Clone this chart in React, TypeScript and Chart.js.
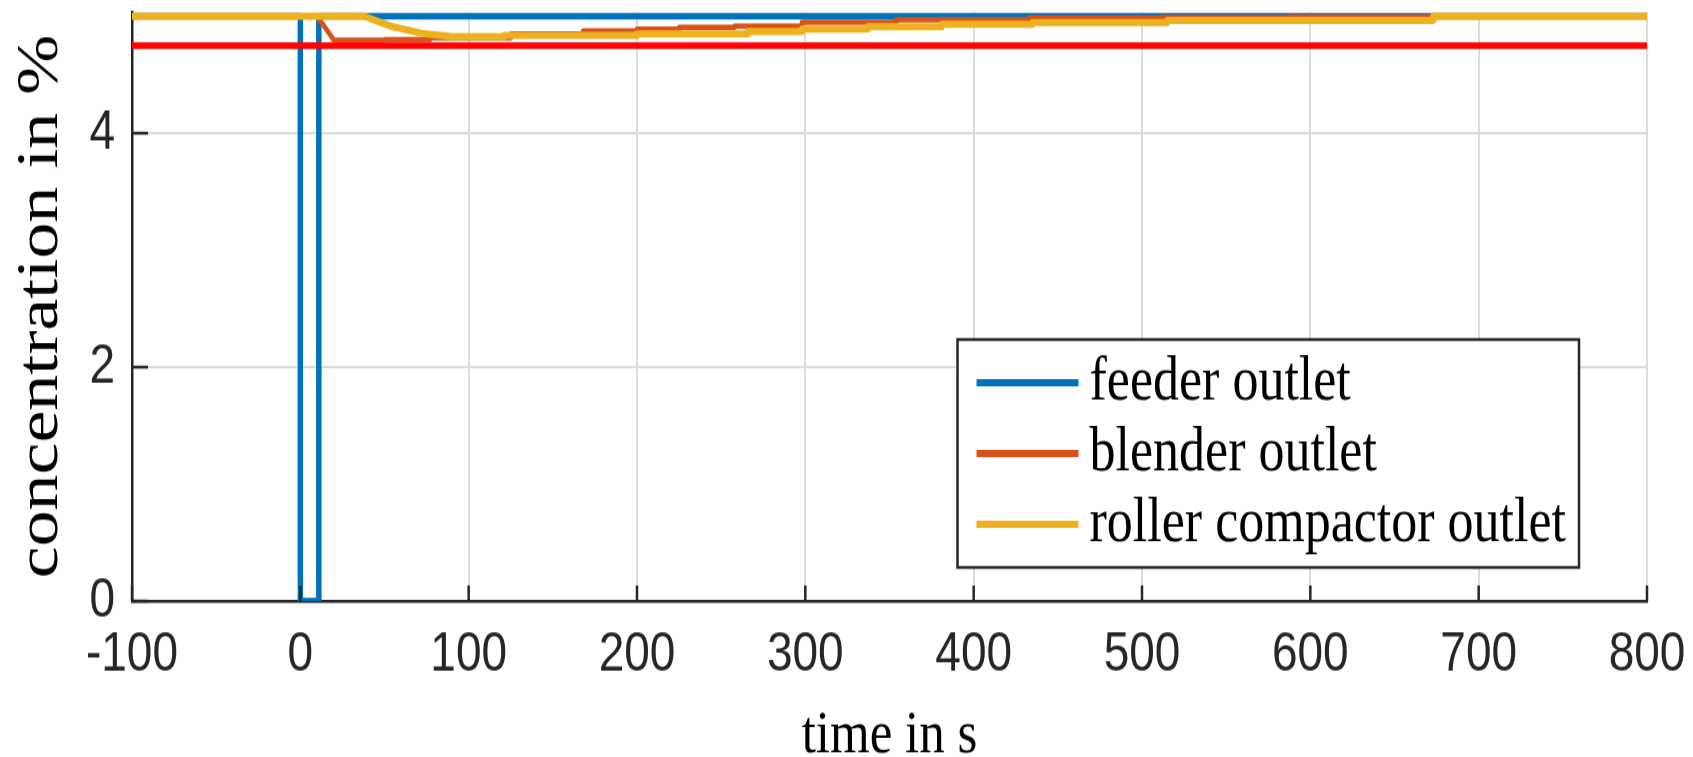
import React, { useEffect, useRef } from "react";
import { Chart, registerables } from "chart.js";
Chart.register(...registerables);

const xTicks = [-100, 0, 100, 200, 300, 400, 500, 600, 700, 800];
const yTicks = [0, 2, 4];
const seriesNames = ["feeder outlet", "blender outlet", "roller compactor outlet"];
const seriesColors = ["#0072BD", "#D95319", "#EDB120"];
const seriesWidths = [5.5, 4.5, 6];

const feederTime = [-100, 0, 0, 11, 11, 800];
const feederValue = [5, 5, 0, 0, 5, 5];

const blenderTime = [-100, 10, 20, 50, 50, 77, 77, 125, 125, 168, 168, 200, 200, 225, 225, 258, 258, 298, 298, 354, 354, 433, 433, 512, 512, 588, 588, 670, 670, 800];
const blenderValue = [5, 5, 4.795, 4.795, 4.8, 4.8, 4.815, 4.815, 4.85, 4.85, 4.875, 4.875, 4.89, 4.89, 4.905, 4.905, 4.915, 4.915, 4.95, 4.95, 4.97, 4.97, 4.985, 4.985, 4.99, 4.99, 4.995, 4.995, 5, 5];

const rollerTime = [-100, 38, 55, 72, 90, 121, 121, 200, 200, 266, 266, 298, 298, 337, 337, 381, 381, 435, 435, 515, 515, 673, 673, 800];
const rollerValue = [5, 5, 4.91, 4.855, 4.825, 4.825, 4.835, 4.835, 4.85, 4.85, 4.87, 4.87, 4.89, 4.89, 4.91, 4.91, 4.93, 4.93, 4.945, 4.945, 4.965, 4.965, 5, 5];

const limitTime = [-100, 800];
const limitValue = [4.75, 4.75];

const AXIS_COLOR = "#262626";
// the reference figure is stretched vertically; render at a shorter height and let CSS stretch it
const VIEW_W = 1693;
const VIEW_H = 757;
const STRETCH = 1.2;
const RENDER_H = Math.round(VIEW_H / STRETCH);

const toPoints = (t: number[], v: number[]) => t.map((x, i) => ({ x, y: v[i] }));

const inwardTicks = {
  id: "inwardTicks",
  afterDatasetsDraw(chart: any) {
    const { ctx, chartArea, scales } = chart;
    ctx.save();
    ctx.strokeStyle = AXIS_COLOR;
    ctx.lineWidth = 2.5;
    ctx.beginPath();
    scales.x.ticks.forEach((t: any) => {
      const px = scales.x.getPixelForValue(t.value);
      ctx.moveTo(px, chartArea.bottom);
      ctx.lineTo(px, chartArea.bottom - 13);
    });
    scales.y.ticks.forEach((t: any) => {
      const py = scales.y.getPixelForValue(t.value);
      ctx.moveTo(chartArea.left, py);
      ctx.lineTo(chartArea.left + 16, py);
    });
    ctx.stroke();
    ctx.restore();
  },
};

const boxLegend = {
  id: "boxLegend",
  afterDraw(chart: any) {
    const { ctx, chartArea } = chart;
    const font = "52px 'Liberation Serif', 'Times New Roman', serif";
    ctx.save();
    ctx.font = font;
    const maxW = Math.max(...seriesNames.map((s) => ctx.measureText(s).width));
    const padL = 19, sample = 102, gap = 11, padR = 13, rowH = 59, padV = 36;
    const w = padL + sample + gap + maxW + padR;
    const h = padV * 2 + rowH * (seriesNames.length - 1);
    const right = chartArea.right - 68;
    const bottom = chartArea.bottom - 28;
    const left = right - w;
    const top = bottom - h;
    ctx.fillStyle = "#ffffff";
    ctx.fillRect(left, top, w, h);
    ctx.strokeStyle = AXIS_COLOR;
    ctx.lineWidth = 2.5;
    ctx.strokeRect(left, top, w, h);
    seriesNames.forEach((name, i) => {
      const y = top + padV + i * rowH;
      ctx.strokeStyle = seriesColors[i];
      ctx.lineWidth = 6;
      ctx.beginPath();
      ctx.moveTo(left + padL, y);
      ctx.lineTo(left + padL + sample, y);
      ctx.stroke();
      ctx.fillStyle = "#000000";
      ctx.textAlign = "left";
      ctx.textBaseline = "middle";
      ctx.fillText(name, left + padL + sample + gap, y);
    });
    ctx.restore();
  },
};

export default function App() {
  const canvasRef = useRef<HTMLCanvasElement | null>(null);

  useEffect(() => {
    document.body.style.margin = "0";
    const canvas = canvasRef.current;
    if (!canvas) return;
    const seriesTimes = [feederTime, blenderTime, rollerTime];
    const seriesValues = [feederValue, blenderValue, rollerValue];
    const seriesSets = seriesNames.map((name, i) => ({
      label: name,
      data: toPoints(seriesTimes[i], seriesValues[i]),
      borderColor: seriesColors[i],
      backgroundColor: seriesColors[i],
      borderWidth: seriesWidths[i],
      pointRadius: 0,
      tension: 0,
      borderJoinStyle: "round" as const,
      borderCapStyle: "round" as const,
    }));
    const limitSet = {
      label: "limit",
      data: toPoints(limitTime, limitValue),
      borderColor: "#FF0000",
      backgroundColor: "#FF0000",
      borderWidth: 5.5,
      pointRadius: 0,
      tension: 0,
    };
    // Chart.js draws the last dataset first, so the first one ends on top
    const datasets = [limitSet, seriesSets[2], seriesSets[1], seriesSets[0]];

    const chart = new Chart(canvas, {
      type: "line",
      data: { datasets },
      options: {
        animation: false,
        responsive: false,
        maintainAspectRatio: false,
        devicePixelRatio: 1,
        layout: { padding: { top: 10, right: 46, left: 0, bottom: 0 } },
        plugins: { legend: { display: false }, tooltip: { enabled: false } },
        scales: {
          x: {
            type: "linear",
            min: -100,
            max: 800,
            afterBuildTicks: (s: any) => {
              s.ticks = xTicks.map((v) => ({ value: v }));
            },
            afterFit: (s: any) => {
              s.height = 130;
              s.paddingLeft = 0;
              s.paddingRight = 0;
            },
            ticks: {
              color: AXIS_COLOR,
              padding: 22,
              font: { family: "'Liberation Sans', Arial, Helvetica, sans-serif", size: 46, lineHeight: 1 },
              maxRotation: 0,
            },
            grid: { color: "#dcdcdc", lineWidth: 2, drawTicks: false },
            border: { display: true, color: AXIS_COLOR, width: 2.5 },
            title: {
              display: true,
              text: "time in s",
              color: "#000000",
              font: { family: "'Liberation Serif', 'Times New Roman', serif", size: 51, lineHeight: 1 },
              padding: { top: 0, bottom: -8 },
            },
          },
          y: {
            type: "linear",
            min: 0,
            max: 5.036,
            afterBuildTicks: (s: any) => {
              s.ticks = yTicks.map((v) => ({ value: v }));
            },
            afterFit: (s: any) => {
              s.width = 132;
              s.paddingTop = 0;
              s.paddingBottom = 0;
            },
            ticks: {
              color: AXIS_COLOR,
              padding: 17,
              font: { family: "'Liberation Sans', Arial, Helvetica, sans-serif", size: 46, lineHeight: 1 },
            },
            grid: { color: "#dcdcdc", lineWidth: 2, drawTicks: false },
            border: { display: true, color: AXIS_COLOR, width: 2.5 },
            title: {
              display: true,
              text: "concentration in %",
              color: "#000000",
              font: { family: "'Liberation Serif', 'Times New Roman', serif", size: 60, lineHeight: 1 },
              padding: { top: 11, bottom: 0 },
            },
          },
        },
      },
      plugins: [inwardTicks, boxLegend],
    });
    return () => chart.destroy();
  }, []);

  return (
    <div style={{ width: VIEW_W, height: VIEW_H }}>
      <canvas
        ref={canvasRef}
        width={VIEW_W}
        height={RENDER_H}
        style={{ display: "block", width: VIEW_W, height: VIEW_H }}
      />
    </div>
  );
}
